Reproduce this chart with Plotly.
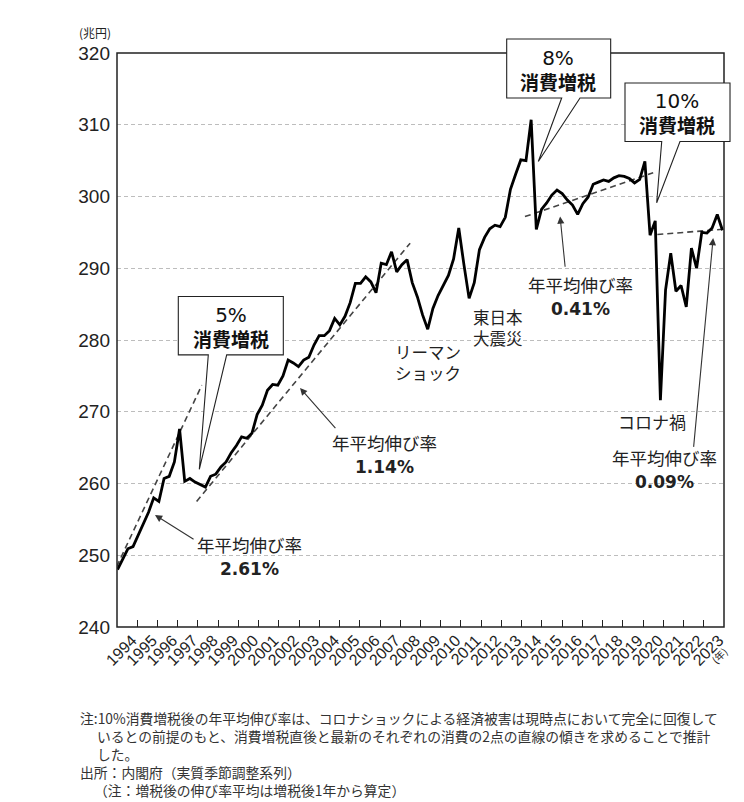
import plotly.graph_objects as go

# ---- data (quarterly, 1994Q1 .. 2023Q2), 兆円 ----
consumption = [
    248.0, 249.4, 250.9, 251.2, 252.8, 254.5, 256.0, 258.0, 257.5, 260.7,
    261.0, 263.0, 267.6, 260.3, 260.7, 260.2, 259.8, 259.5, 261.0, 261.3,
    262.3, 263.0, 264.3, 265.3, 266.5, 266.3, 267.0, 269.6, 270.9, 273.0,
    273.8, 273.7, 275.0, 277.2, 276.8, 276.3, 277.2, 277.6, 279.3, 280.6,
    280.6, 281.3, 283.0, 282.1, 283.3, 285.2, 287.9, 287.9, 288.8, 288.1,
    286.6, 290.7, 290.5, 292.3, 289.5, 290.5, 291.2, 288.0, 286.0, 283.5,
    281.5, 284.4, 286.2, 287.5, 289.0, 291.3, 295.6, 290.5, 285.8, 288.0,
    292.6, 294.3, 295.5, 296.0, 295.8, 297.1, 301.0, 303.1, 305.1, 305.0,
    310.7, 295.4, 298.2, 299.1, 300.2, 300.9, 300.4, 299.5, 298.8, 297.5,
    299.0, 299.9, 301.7, 302.0, 302.3, 302.1, 302.6, 302.9, 302.8, 302.5,
    301.9, 302.4, 304.9, 294.6, 296.6, 271.6, 287.0, 292.1, 286.8, 287.6,
    284.6, 292.8, 290.0, 295.0, 294.9, 295.6, 297.5, 295.3,
]
quarter_index = list(range(len(consumption)))

years = [str(y) for y in range(1994, 2024)]

# trend lines (start/end in quarter index and 兆円)
trend_x = [[-1.8, 16.3], [15.3, 56.6], [78.8, 103.6], [104.4, 118.3]]
trend_y = [[245.9, 273.7], [257.5, 293.5], [297.2, 303.3], [294.7, 295.5]]
trend_rates = ["2.61%", "1.14%", "0.41%", "0.09%"]

y_ticks = list(range(240, 330, 10))

X_MIN, X_MAX = -0.1, 117.3
step = (X_MAX - X_MIN) / len(years)
tick_pos = [X_MIN + (k + 1) * step for k in range(len(years))]

JP = "Noto Sans CJK JP"
NUM = "Liberation Sans, Noto Sans CJK JP"
WIDE_SPAN = "font-family:DejaVu Sans;font-weight:bold;font-size:17px"

fig = go.Figure()

for tx, ty in zip(trend_x, trend_y):
    fig.add_trace(go.Scatter(x=tx, y=ty, mode="lines",
                             line=dict(color="#444", width=1.6, dash="6px,4px"),
                             hoverinfo="skip", showlegend=False))

fig.add_trace(go.Scatter(x=quarter_index, y=consumption, mode="lines",
                         line=dict(color="#000", width=2.8),
                         showlegend=False))

shapes = []
# frame
shapes.append(dict(type="rect", xref="paper", yref="paper", x0=0, y0=0, x1=1, y1=1,
                   line=dict(color="#222", width=1.5), layer="above"))


def callout(xl, xr, yt, yb, b1, b2, tx, ty):
    p = (f"M {b1} {yb} L {tx} {ty} L {b2} {yb} L {xr} {yb} L {xr} {yt} "
         f"L {xl} {yt} L {xl} {yb} Z")
    return dict(type="path", xref="paper", yref="paper", path=p,
                fillcolor="white", line=dict(color="#222", width=1.1), layer="above")


shapes.append(callout(0.1010, 0.2740, 0.5757, 0.4740, 0.1504, 0.1807, 0.1356, 0.2748))
shapes.append(callout(0.6420, 0.8133, 1.0244, 0.9216, 0.7326, 0.7628, 0.6941, 0.8110))
shapes.append(callout(0.8369, 1.0099, 0.9477, 0.8459, 0.8974, 0.9275, 0.8891, 0.7390))

ann = []


def txt(x, y, s, size=17, fam=JP, ref="data", color="#222", xanchor="center", angle=0):
    d = dict(x=x, y=y, text=s, showarrow=False, font=dict(family=fam, size=size, color=color),
             xanchor=xanchor, yanchor="middle", textangle=angle)
    if ref == "paper":
        d.update(xref="paper", yref="paper")
    ann.append(d)


# callout texts
for (xp, ym, s) in [(0.1875, 0.522, "5%"),
                    (0.7270, 0.9694, "8%"),
                    (0.9221, 0.8953, "10%")]:
    txt(xp, ym,
        f"<span style='font-family:DejaVu Sans;font-size:20px'>{s}</span><br><b>消費増税</b>",
        size=19, ref="paper", color="#111")

# growth rate labels
for (x, ym), s in zip([(25.6, 250.0), (51.7, 264.15), (89.6, 286.2), (105.7, 262.1)],
                      trend_rates):
    txt(x, ym, f"年平均伸び率<br><span style='{WIDE_SPAN}'>{s}</span>", size=17.5)

txt(60.1, 276.9, "リーマン<br>ショック", size=16.5)
txt(73.5, 281.8, "東日本<br>大震災", size=16.5)
txt(103.3, 268.6, "コロナ禍", size=17)

# arrows
for (hx, hy, tx_, ty_) in [(7.25, 255.6, 15.0, 252.1),
                           (35.3, 273.3, 42.4, 267.5),
                           (85.6, 297.2, 86.6, 290.0),
                           (115.2, 294.2, 111.4, 264.9)]:
    ann.append(dict(x=hx, y=hy, ax=tx_, ay=ty_, axref="x", ayref="y", xref="x", yref="y",
                    text="", showarrow=True, arrowhead=2, arrowsize=1.3, arrowwidth=1.1,
                    arrowcolor="#333"))

# axis unit labels
txt(-0.0362, 1.035, "(兆円)", size=12, ref="paper")
txt(0.992, -0.050, "(年)", size=10, ref="paper", angle=-45)

# notes
notes = [
    (-0.0643, -0.1588, "注:10%消費増税後の年平均伸び率は、コロナショックによる経済被害は現時点において完全に回復して"),
    (-0.0362, -0.1902, "いるとの前提のもと、消費増税直後と最新のそれぞれの消費の2点の直線の傾きを求めることで推計"),
    (-0.0362, -0.2216, "した。"),
    (-0.0643, -0.2530, "出所：内閣府（実質季節調整系列）"),
    (-0.0412, -0.2844, "（注：増税後の伸び率平均は増税後1年から算定）"),
]
for x, y, s in notes:
    txt(x, y, s, size=13.8, ref="paper", xanchor="left", color="#333")

fig.update_layout(
    width=744, height=802, autosize=False,
    margin=dict(l=117, r=20, t=53, b=175),
    plot_bgcolor="white", paper_bgcolor="white",
    shapes=shapes, annotations=ann, showlegend=False,
    xaxis=dict(range=[X_MIN, X_MAX], showgrid=False, zeroline=False, showline=False,
               tickmode="array", tickvals=tick_pos, ticktext=years,
               ticks="inside", ticklen=7, tickwidth=1.2, tickcolor="#222",
               tickangle=-45, ticklabelshift=-5,
               tickfont=dict(family=NUM, size=16, color="#222")),
    yaxis=dict(range=[240, 320], tickmode="array", tickvals=y_ticks,
               showgrid=True, gridcolor="#bdbdbd", griddash="4px,3px", gridwidth=1,
               zeroline=False, showline=False, ticks="",
               ticklabelstandoff=6,
               tickfont=dict(family=NUM, size=19, color="#222")),
)

# remove the page's default body margin so the 744x802 figure fills the window
fig.write_html("out.html", config={"displayModeBar": False},
               post_script="document.body.style.margin='0';document.body.style.overflow='hidden';")
